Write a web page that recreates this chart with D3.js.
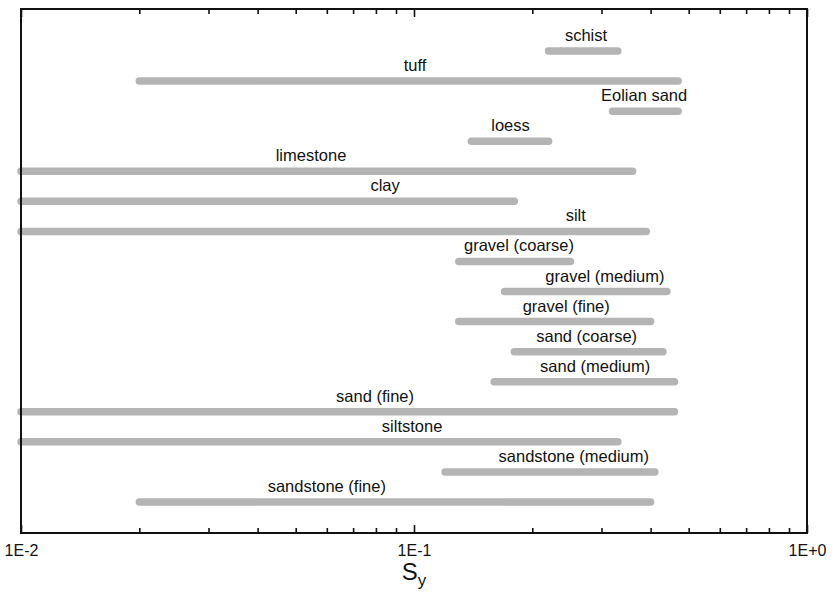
<!DOCTYPE html>
<html>
<head>
<meta charset="utf-8">
<script src="https://cdn.jsdelivr.net/npm/d3@7"></script>
<style>
  html, body { margin: 0; padding: 0; background: #fff; }
  svg { display: block; }
  text { font-family: "Liberation Sans", Arial, sans-serif; fill: #111; }
</style>
</head>
<body>
<svg id="chart" width="836" height="594"></svg>
<script>
// Specific yield (Sy) ranges by material
const materials = [
  "schist", "tuff", "Eolian sand", "loess", "limestone", "clay", "silt",
  "gravel (coarse)", "gravel (medium)", "gravel (fine)", "sand (coarse)",
  "sand (medium)", "sand (fine)", "siltstone", "sandstone (medium)", "sandstone (fine)"
];
const syMin = [0.22, 0.02, 0.32, 0.14, 0.01, 0.01, 0.01, 0.13, 0.17, 0.13, 0.18, 0.16, 0.01, 0.01, 0.12, 0.02];
const syMax = [0.33, 0.47, 0.47, 0.22, 0.36, 0.18, 0.39, 0.25, 0.44, 0.40, 0.43, 0.46, 0.46, 0.33, 0.41, 0.40];
// where each name sits along the Sy axis
const labelAt = [0.274, 0.1006, 0.385, 0.176, 0.0547, 0.0844, 0.258, 0.185, 0.306, 0.244, 0.275, 0.289, 0.0796, 0.0989, 0.255, 0.060];

const xDomain = [0.01, 1];
const majorTicks = [0.01, 0.1, 1];
const majorTickLabels = ["1E-2", "1E-1", "1E+0"];
const axisTitle = "S";
const axisTitleSub = "y";

const width = 836, height = 594;
const margin = { top: 9, right: 29, bottom: 61, left: 21 };
const svg = d3.select("#chart");

const x = d3.scaleLog()
  .domain(xDomain)
  .range([margin.left, width - margin.right]);

const y = d3.scalePoint()
  .domain(materials)
  .range([margin.top + 42, height - margin.bottom - 31]);

// minor + major tick positions across each decade
const allTicks = [];
for (let e = -2; e < 0; e++) {
  for (let m = 1; m <= 9; m++) allTicks.push(m * Math.pow(10, e));
}
allTicks.push(1);
const isMajor = v => majorTicks.some(t => Math.abs(t - v) / t < 1e-9);
const fmt = v => {
  const i = majorTicks.findIndex(t => Math.abs(t - v) / t < 1e-9);
  return i >= 0 ? majorTickLabels[i] : "";
};

// bars
const rows = materials.map((m, i) => ({ name: m, lo: syMin[i], hi: syMax[i], at: labelAt[i] }));

svg.append("g")
  .selectAll("line")
  .data(rows)
  .join("line")
  .attr("x1", d => x(d.lo))
  .attr("x2", d => x(d.hi))
  .attr("y1", d => y(d.name))
  .attr("y2", d => y(d.name))
  .attr("stroke", "#b4b4b4")
  .attr("stroke-width", 7.5)
  .attr("stroke-linecap", "round");

svg.append("g")
  .selectAll("text")
  .data(rows)
  .join("text")
  .attr("x", d => x(d.at))
  .attr("y", d => y(d.name) - 10)
  .attr("text-anchor", "middle")
  .style("font-size", "16.5px")
  .text(d => d.name);

// bottom axis with inward ticks
const bottomAxis = svg.append("g")
  .attr("transform", `translate(0,${height - margin.bottom})`)
  .call(d3.axisBottom(x).tickValues(allTicks).tickFormat(fmt).tickSize(-5).tickPadding(12));
bottomAxis.select(".domain").remove();
bottomAxis.selectAll(".tick line")
  .attr("y2", d => isMajor(d) ? -8 : -5)
  .attr("stroke", "#111").attr("stroke-width", 1.6);
bottomAxis.selectAll(".tick text")
  .style("font-size", "16px")
  .style("font-family", "'Liberation Sans', Arial, sans-serif")
  .attr("fill", "#111");

// top axis with inward ticks
const topAxis = svg.append("g")
  .attr("transform", `translate(0,${margin.top})`)
  .call(d3.axisTop(x).tickValues(allTicks).tickFormat(() => "").tickSize(-5));
topAxis.select(".domain").remove();
topAxis.selectAll(".tick line")
  .attr("y2", d => isMajor(d) ? 8 : 5)
  .attr("stroke", "#111").attr("stroke-width", 1.6);

// plot frame
svg.append("rect")
  .attr("x", margin.left)
  .attr("y", margin.top)
  .attr("width", width - margin.left - margin.right)
  .attr("height", height - margin.top - margin.bottom)
  .attr("fill", "none")
  .attr("stroke", "#111")
  .attr("stroke-width", 2);

// axis title S_y
const title = svg.append("text")
  .attr("x", x(0.1))
  .attr("y", 580)
  .attr("text-anchor", "middle");
title.append("tspan").style("font-size", "24px").text(axisTitle);
title.append("tspan").style("font-size", "17px").attr("dy", 6).text(axisTitleSub);
</script>
</body>
</html>
